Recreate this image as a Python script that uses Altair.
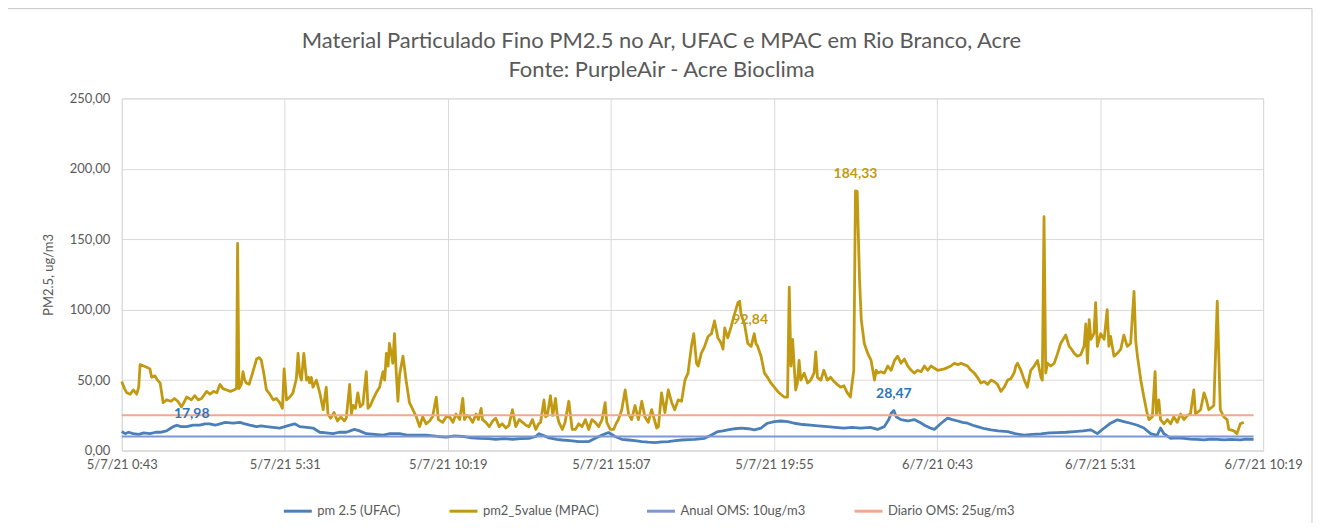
import altair as alt
import pandas as pd

title_lines = ["Material Particulado Fino PM2.5 no Ar, UFAC e  MPAC em Rio Branco, Acre",
               "Fonte: PurpleAir - Acre Bioclima"]
y_title = "PM2.5, ug/m3"
series_names = ["pm 2.5 (UFAC)", "pm2_5value (MPAC)", "Anual OMS: 10ug/m3", "Diario OMS: 25ug/m3"]
series_colors = ["#4A7FB8", "#C29A12", "#7D97D2", "#F2A88C"]

x_tick_hours = [0, 4.8, 9.6, 14.4, 19.2, 24.0, 28.8, 33.6]
x_tick_labels = ["5/7/21 0:43", "5/7/21 5:31", "5/7/21 10:19", "5/7/21 15:07",
                 "5/7/21 19:55", "6/7/21 0:43", "6/7/21 5:31", "6/7/21 10:19"]
y_ticks = [0, 50, 100, 150, 200, 250]

# hours after 5/7/21 0:43
mpac_hours = [0.00, 0.08, 0.15, 0.25, 0.34, 0.44, 0.50, 0.54, 0.65, 0.75, 0.83, 0.88, 0.98, 1.05, 1.13,
              1.22, 1.32, 1.45, 1.55, 1.65, 1.76, 1.85, 1.91, 2.05, 2.15, 2.25, 2.35, 2.50, 2.60, 2.70,
              2.80, 2.89, 2.98, 3.09, 3.20, 3.30, 3.38, 3.41, 3.45, 3.52, 3.57, 3.62, 3.67, 3.75, 3.85,
              3.97, 4.05, 4.11, 4.18, 4.26, 4.36, 4.46, 4.55, 4.65, 4.73, 4.78, 4.85, 4.95, 5.04, 5.14,
              5.19, 5.24, 5.29, 5.36, 5.44, 5.50, 5.53, 5.58, 5.63, 5.73, 5.83, 5.93, 6.02, 6.07, 6.15,
              6.25, 6.35, 6.45, 6.55, 6.61, 6.71, 6.76, 6.81, 6.88, 6.95, 7.02, 7.10, 7.20, 7.25, 7.32,
              7.39, 7.49, 7.59, 7.69, 7.74, 7.79, 7.84, 7.88, 7.93, 7.98, 8.03, 8.08, 8.13, 8.18, 8.28,
              8.37, 8.47, 8.57, 8.67, 8.77, 8.86, 8.96,
              9.06, 9.15, 9.26, 9.32, 9.45, 9.55, 9.65, 9.75, 9.84, 9.95, 10.04, 10.09, 10.16, 10.23,
              10.33, 10.43, 10.50, 10.58, 10.62, 10.72, 10.82, 10.92, 11.01, 11.11, 11.20, 11.31, 11.40,
              11.50, 11.60, 11.70, 11.80, 11.90, 11.99, 12.09, 12.19, 12.27, 12.33, 12.43, 12.48, 12.53,
              12.62, 12.69, 12.77, 12.82, 12.87, 12.97, 13.05, 13.16, 13.26, 13.36, 13.45, 13.55, 13.65,
              13.75, 13.84, 13.94, 14.04, 14.14, 14.23, 14.28, 14.38, 14.48, 14.55, 14.62, 14.72, 14.82,
              14.92, 15.01, 15.11, 15.21, 15.31, 15.40, 15.50, 15.60, 15.68, 15.75, 15.80, 15.89, 15.99,
              16.09, 16.19, 16.28, 16.38, 16.48, 16.58, 16.67, 16.77, 16.84, 16.92, 16.97, 17.06, 17.16,
              17.26, 17.36, 17.45, 17.55, 17.65, 17.70, 17.75, 17.84, 17.94, 18.04, 18.14, 18.19, 18.23,
              18.33, 18.43, 18.53, 18.62, 18.67, 18.72, 18.82, 18.92, 19.01, 19.11, 19.21, 19.31, 19.40,
              19.50, 19.60, 19.65, 19.70, 19.75, 19.80, 19.84, 19.89, 19.94, 19.99, 20.09, 20.19, 20.28,
              20.38, 20.43, 20.48, 20.58, 20.67, 20.77, 20.87, 20.97, 21.06, 21.16, 21.26, 21.36, 21.45,
              21.55, 21.60, 21.65,
              21.72, 21.77, 21.86, 21.96, 22.06, 22.16, 22.21, 22.26, 22.35, 22.45, 22.55, 22.65, 22.75,
              22.84, 22.94, 23.04, 23.14, 23.24, 23.33, 23.43, 23.53, 23.63, 23.73, 23.82, 24.02, 24.22,
              24.41, 24.51, 24.61, 24.71, 24.80, 24.90, 25.00, 25.10, 25.19, 25.29, 25.39, 25.49, 25.59,
              25.68, 25.78, 25.88, 25.98, 26.08, 26.17, 26.27, 26.32, 26.37, 26.47, 26.57, 26.66, 26.76,
              26.86, 26.96, 27.06, 27.10, 27.15, 27.20, 27.25, 27.35, 27.45, 27.55, 27.64, 27.79, 27.89,
              27.96, 28.04, 28.13, 28.23, 28.33, 28.38, 28.43, 28.48, 28.53, 28.62, 28.67, 28.72, 28.82,
              28.92, 29.01, 29.06, 29.11, 29.21, 29.31, 29.41, 29.50, 29.60, 29.70, 29.80, 29.85, 29.90,
              30.00, 30.09, 30.19, 30.24, 30.34, 30.42, 30.46, 30.53, 30.58, 30.68, 30.78, 30.88, 30.97,
              31.07, 31.17, 31.27, 31.37, 31.46, 31.56, 31.61, 31.76, 31.86, 31.93, 32.00, 32.15, 32.25,
              32.34, 32.44, 32.54, 32.59, 32.74, 32.83, 32.93, 33.03]
mpac_values = [49, 44, 41, 40, 43, 40, 45, 61, 60, 59, 58, 52, 53, 50, 48,
               34, 36, 35, 37, 35, 31, 35, 38, 36, 39, 36, 37, 42, 40, 42,
               41, 47, 44, 43, 42, 43, 44, 147, 44, 47, 56, 50, 48, 47, 55,
               65, 66, 64, 55, 43, 40, 36, 37, 34, 30, 58, 36, 38, 41, 51,
               69, 54, 50, 69, 50, 52, 48, 52, 45, 50, 41, 29, 45, 26, 23,
               27, 21, 24, 21, 23, 47, 26, 32, 30, 41, 31, 33, 56, 30, 32,
               36, 41, 45, 56, 50, 69, 60, 76, 70, 62, 83, 56, 35, 54, 67,
               50, 34, 29, 24, 17, 24, 19,
               21, 24, 38, 22, 20, 24, 24, 20, 26, 22, 37, 22, 25, 24,
               20, 26, 22, 30, 22, 20, 17, 21, 23, 17, 19, 16, 18,
               29, 17, 22, 20, 18, 17, 22, 15, 19, 20, 36, 24, 25,
               39, 25, 37, 25, 20, 15, 20, 35, 15, 15, 19, 17, 22,
               15, 22, 20, 17, 22, 34, 20, 15, 15, 19, 22, 29, 43,
               26, 22, 32, 22, 35, 24, 20, 29, 22, 16, 17, 41, 27,
               43, 34, 29, 36, 35, 50, 55, 74, 83, 62, 60, 69, 74,
               81, 83, 92, 80, 76, 72, 87, 80, 88, 97, 105, 106, 97,
               90, 76, 74, 83, 76, 74, 67, 55, 52, 48, 45, 42, 40,
               38, 38, 116, 60, 79, 58, 43, 48, 64, 50, 55, 48, 50,
               55, 70, 52, 50, 57, 50, 52, 49, 47, 45, 46, 41, 38,
               57, 184.33, 184,
               121, 93, 76, 69, 64, 50, 57, 55, 56, 55, 60, 57, 64,
               67, 62, 65, 60, 57, 55, 57, 56, 60, 57, 60, 57, 58,
               60, 62, 61, 62, 61, 60, 57, 55, 52, 48, 49, 47, 50,
               49, 47, 42, 45, 50, 51, 55, 60, 62, 57, 50, 45, 57,
               60, 64, 52, 50, 166, 55, 62, 60, 62, 69, 76, 82, 74,
               72, 69, 67, 68, 74, 90, 62, 93, 79, 83, 105, 74, 83,
               79, 100, 74, 81, 67, 69, 72, 82, 74, 76, 113, 78, 67,
               50, 38, 26, 22, 24, 56, 26, 36, 22, 19, 22, 19, 24,
               20, 26, 22, 25, 26, 43, 26, 29, 41, 36, 29, 32, 106,
               29, 24, 22, 15, 14, 12, 19, 20]

ufac_hours = [0.00, 0.10, 0.20, 0.34, 0.50, 0.65, 0.83, 1.00, 1.13, 1.32, 1.45, 1.52, 1.62, 1.75, 1.91,
              2.10, 2.30, 2.45, 2.59, 2.75, 2.89, 3.05, 3.28, 3.48, 3.62, 3.77, 3.97, 4.10, 4.26, 4.45,
              4.65, 4.80, 4.95, 5.09, 5.24, 5.45, 5.63, 5.83, 6.02, 6.22, 6.40, 6.61, 6.85, 7.00, 7.20,
              7.45, 7.69, 7.90, 8.18, 8.40, 8.67, 8.96, 9.30, 9.55, 9.80, 10.04, 10.30, 10.53, 10.80,
              11.01, 11.25, 11.50, 11.75, 11.99, 12.19, 12.28, 12.38, 12.58, 12.80, 12.97, 13.20, 13.45,
              13.75, 13.94, 14.14, 14.33, 14.52, 14.72, 14.92, 15.10, 15.31, 15.50, 15.70, 15.90, 16.09,
              16.30, 16.48, 16.70, 16.87, 17.16, 17.36, 17.55, 17.70, 17.84, 18.05, 18.23, 18.45, 18.62,
              18.82, 19.01, 19.21, 19.40, 19.60, 19.80, 20.05, 20.28, 20.50, 20.77, 21.00, 21.26, 21.50,
              21.75, 22.04, 22.25, 22.45, 22.58, 22.65, 22.73, 22.80, 22.94, 23.14, 23.33, 23.50, 23.63,
              23.80, 23.92, 24.12, 24.31, 24.45, 24.61, 24.75, 24.90, 25.05, 25.19, 25.40, 25.59, 25.80,
              26.08, 26.30, 26.57, 26.80, 27.06, 27.30, 27.55, 27.80, 28.04, 28.30, 28.53, 28.72, 28.92,
              29.11, 29.31, 29.50, 29.70, 29.90, 30.09, 30.29, 30.48, 30.58, 30.68, 30.88, 31.05, 31.27,
              31.46, 31.65, 31.86, 32.05, 32.25, 32.45, 32.64, 32.80, 32.93, 33.10, 33.32]
ufac_values = [13.5, 12, 13, 12, 11.5, 12.5, 12, 13, 13, 14, 16, 17, 18, 17, 17,
               18, 18, 19, 19, 18, 19, 20, 19.5, 20, 19, 18, 17, 17.5, 17, 16.5,
               16, 17, 18, 19, 17, 16.5, 16, 13, 12.5, 12, 13, 13, 15, 14, 12,
               11.5, 11, 12, 12, 11, 11, 11, 10, 9.5, 10.5, 10, 9, 8.7, 8.5,
               8, 8.5, 8, 8.5, 8.7, 10, 12, 11, 9, 8, 7.5, 7, 6.4,
               6.4, 8.7, 11, 12.8, 10, 8, 7.5, 7, 6.4, 6, 5.7, 6.2, 6.4,
               7, 7.5, 7.8, 8, 8.7, 11, 13.5, 14, 14.7, 15.5, 16, 15.5, 14.7,
               16, 19.4, 20.6, 21, 20.6, 19.4, 18.5, 18, 17.5, 17, 16.5, 16, 16.5,
               16, 16.5, 15, 17, 22, 26.5, 28.47, 24, 22, 21, 22, 20, 18,
               16, 15, 19.4, 23, 22, 21, 20, 19.4, 18, 17, 15.5, 14.7, 14,
               13.5, 12, 11, 11.5, 11.8, 12.5, 12.8, 13, 13.5, 14, 14.7, 12, 16,
               19.4, 21.8, 20.6, 19.4, 18, 16, 12, 10.8, 16, 12, 8.7, 9, 8.7,
               8.2, 8, 7.6, 8.2, 8, 7.6, 8, 7.8, 7.6, 8.2, 8]

limit_hours = [0.0, 33.32]
anual_values = [10, 10]
diario_values = [25, 25]

label_hours = [2.06, 22.73, 21.60, 18.5]
label_values = [17.98, 28.47, 184.33, 92.84]
label_texts = ["17,98", "28,47", "184,33", "92,84"]
label_colors = ["#2E75B6", "#2E75B6", "#C29A12", "#C29A12"]
label_dy = [-11, -16, -17, 0]

FONT = "Lato"
GREY = "#595959"

rows = []
for h, v in zip(ufac_hours, ufac_values):
    rows.append({"h": h, "v": v, "series": series_names[0]})
for h, v in zip(mpac_hours, mpac_values):
    rows.append({"h": h, "v": v, "series": series_names[1]})
for h, v in zip(limit_hours, anual_values):
    rows.append({"h": h, "v": v, "series": series_names[2]})
for h, v in zip(limit_hours, diario_values):
    rows.append({"h": h, "v": v, "series": series_names[3]})
df = pd.DataFrame(rows)

label_js = "[" + ",".join("'" + s + "'" for s in x_tick_labels) + "]"

x_enc = alt.X("h:Q", scale=alt.Scale(domain=[0, 33.6], nice=False, zero=False),
              axis=alt.Axis(values=x_tick_hours, labelExpr=label_js + "[round(datum.value/4.8)]",
                            title=None, ticks=False, domainColor="#D9D9D9", gridColor="#D9D9D9",
                            labelPadding=8, labelFontSize=13, labelColor=GREY, labelFont=FONT,
                            labelOverlap=False, labelFlush=False))
y_enc = alt.Y("v:Q", scale=alt.Scale(domain=[0, 250], nice=False),
              axis=alt.Axis(values=y_ticks, labelExpr="replace(format(datum.value, '.2f'), '.', ',')",
                            title=y_title, domain=False, ticks=False, gridColor="#D9D9D9",
                            labelPadding=12, labelFontSize=13, labelColor=GREY, labelFont=FONT,
                            titleFontSize=13, titleFontWeight="normal", titleColor=GREY,
                            titleFont=FONT, titlePadding=14))
color_enc = alt.Color("series:N",
                      scale=alt.Scale(domain=series_names, range=series_colors),
                      legend=alt.Legend(title=None, orient="none", legendX=161, legendY=398,
                                        direction="horizontal", columns=4, symbolType="stroke",
                                        symbolStrokeWidth=3, symbolSize=784, labelFontSize=13,
                                        labelColor=GREY, labelFont=FONT, columnPadding=42,
                                        labelOffset=4))

widths = [2.8, 2.8, 2, 2]
layers = []
border = alt.Chart(pd.DataFrame({"k": [0]})).mark_rect(
    fillOpacity=0, stroke="#C8C8C8", strokeWidth=1, clip=False
).encode(x=alt.value(-115), x2=alt.value(1193), y=alt.value(-90), y2=alt.value(440))
layers.append(border)

for i, line in enumerate(title_lines):
    layers.append(
        alt.Chart(pd.DataFrame({"t": [line]})).mark_text(
            fontSize=22, font=FONT, color=GREY, align="center", baseline="middle"
        ).encode(text="t:N", x=alt.value(541), y=alt.value(-58 + 30 * i))
    )

for name, w in zip(series_names, widths):
    layers.append(
        alt.Chart(df).transform_filter(alt.datum.series == name)
        .mark_line(strokeWidth=w, strokeJoin="round")
        .encode(x=x_enc, y=y_enc, color=color_enc)
    )
for h, v, t, c, dy in zip(label_hours, label_values, label_texts, label_colors, label_dy):
    ldf = pd.DataFrame({"h": [h], "v": [v], "t": [t]})
    layers.append(
        alt.Chart(ldf).mark_text(dy=dy, fontWeight="bold", fontSize=14, color=c, font=FONT)
        .encode(x="h:Q", y="v:Q", text="t:N")
    )

chart = alt.layer(*layers).properties(
    width=1144, height=353,
    autosize=alt.AutoSizeParams(type="none"),
    padding={"left": 114, "top": 90, "right": 50, "bottom": 72},
).configure_view(strokeWidth=0).configure(background="white")

chart.save("out.html", embed_options={"renderer": "svg", "actions": False})
